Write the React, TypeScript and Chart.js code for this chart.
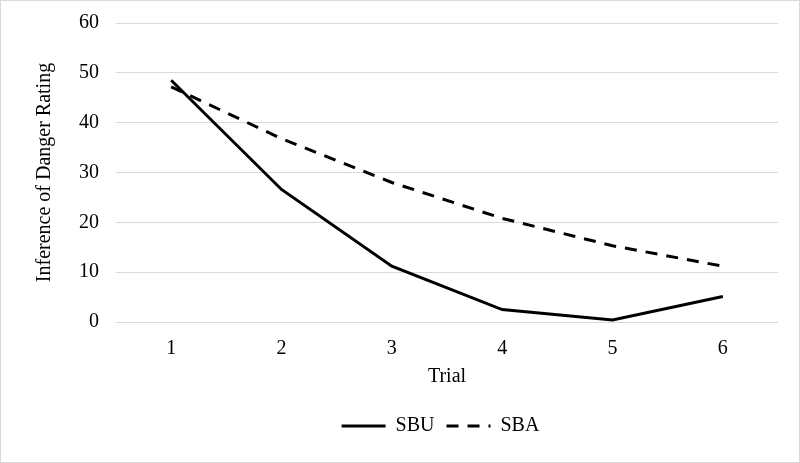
import React, { useEffect, useRef } from "react";
import { Chart, registerables } from "chart.js";

Chart.register(...registerables);

const categories = ["1", "2", "3", "4", "5", "6"];
const sbuValues = [48.5, 26.6, 11.2, 2.5, 0.4, 5.1];
const sbaValues = [47.2, 36.8, 28.0, 20.8, 15.3, 11.2];
const seriesNames = ["SBU", "SBA"];
const yTitle = "Inference of Danger Rating";
const xTitle = "Trial";

const legendShift = {
  id: "legendShift",
  afterLayout(chart: any) {
    const lg = chart.legend;
    if (lg) {
      lg.left += 37;
      lg.right += 37;
    }
  },
};

export default function App() {
  const ref = useRef<HTMLCanvasElement | null>(null);
  useEffect(() => {
    if (!ref.current) return;
    const font = "'Liberation Serif', 'Times New Roman', serif";
    const chart = new Chart(ref.current, {
      type: "line",
      data: {
        labels: categories,
        datasets: [
          {
            label: seriesNames[0],
            data: sbuValues,
            borderColor: "#000000",
            backgroundColor: "#000000",
            borderWidth: 3,
            pointRadius: 0,
            tension: 0,
          },
          {
            label: seriesNames[1],
            data: sbaValues,
            borderColor: "#000000",
            backgroundColor: "#000000",
            borderWidth: 3,
            borderDash: [12, 9],
            pointRadius: 0,
            tension: 0,
          },
        ],
      },
      plugins: [legendShift],
      options: {
        animation: false,
        responsive: false,
        maintainAspectRatio: false,
        layout: { padding: { left: 28, right: 21, top: 21, bottom: 16 } },
        plugins: {
          legend: {
            position: "bottom",
            labels: {
              usePointStyle: true,
              pointStyle: "line",
              pointStyleWidth: 44,
              boxWidth: 44,
              boxHeight: 3,
              color: "#000",
              font: { family: font, size: 20 },
              padding: 12,
              generateLabels: (c: any) =>
                c.data.datasets.map((ds: any, i: number) => ({
                  text: ds.label,
                  fillStyle: "#000",
                  strokeStyle: "#000",
                  fontColor: "#000",
                  lineWidth: 3,
                  lineDash: ds.borderDash || [],
                  pointStyle: "line",
                  hidden: false,
                  datasetIndex: i,
                })),
            },
          },
          tooltip: { enabled: false },
        },
        scales: {
          x: {
            offset: true,
            grid: { display: false, drawTicks: false },
            border: { display: false },
            ticks: { color: "#000", font: { family: font, size: 20 }, padding: 15 },
            title: { display: true, text: xTitle, color: "#000", font: { family: font, size: 20, lineHeight: 1 }, padding: { top: -9, bottom: 17 } },
          },
          y: {
            min: 0,
            max: 60,
            ticks: { stepSize: 10, color: "#000", font: { family: font, size: 20, lineHeight: 0.5 }, padding: 17 },
            grid: { color: "#d9d9d9", lineWidth: 1, drawTicks: false },
            border: { display: false },
            title: { display: true, text: yTitle, color: "#000", font: { family: font, size: 20 }, padding: { bottom: 5 } },
          },
        },
      },
    });
    return () => chart.destroy();
  }, []);
  return (
    <div style={{ position: "fixed", left: 0, top: 0, width: 800, height: 463, background: "#fff", boxSizing: "border-box", border: "1px solid #d9d9d9" }}>
      <canvas ref={ref} width={798} height={461} style={{ display: "block" }} />
    </div>
  );
}
